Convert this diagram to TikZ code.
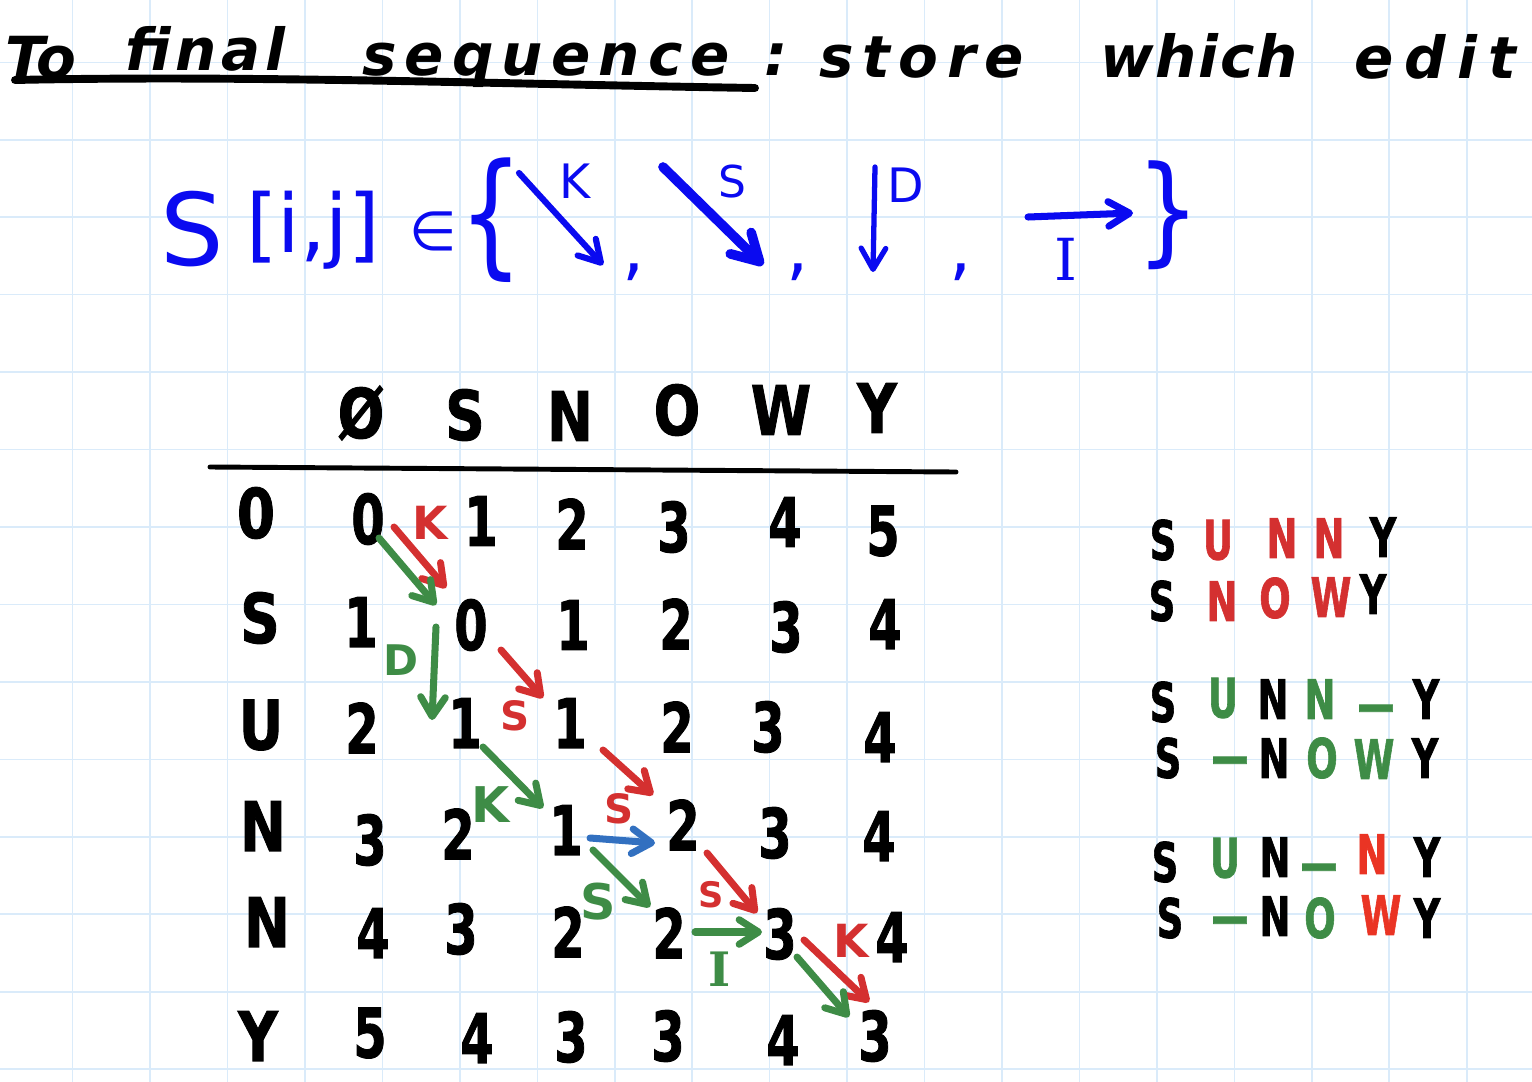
\documentclass[tikz,border=0pt]{standalone}
\usepackage{fontspec}
\setmainfont{DejaVu Sans}
\newfontfamily\serifhand{DejaVu Serif}
\usetikzlibrary{arrows.meta}

\definecolor{paperline}{RGB}{218,235,250}
\definecolor{penblue}{RGB}{10,10,240}
\definecolor{penred}{RGB}{212,48,48}
\definecolor{penbright}{RGB}{234,52,36}
\definecolor{pengreen}{RGB}{62,140,70}
\definecolor{penarrow}{RGB}{50,112,192}

\newcommand{\fsz}[1]{\fontsize{#1}{#1}\selectfont}
\newcommand{\narrow}[2][0.7]{\scalebox{#1}[1]{#2}}

\tikzset{
    paper/.style={draw=paperline, line width=0.9pt},
    heading/.style={font=\fsz{33}\bfseries\itshape\addfontfeatures{LetterSpace=#1}, anchor=base west, inner sep=0pt},
    formula/.style={font=\fsz{#1}, text=penblue, inner sep=0pt},
    cell/.style={font=\fsz{39}\bfseries\addfontfeatures{FakeBold=1.5}, inner sep=0pt},
    letter/.style={font=\fsz{31}\bfseries\addfontfeatures{FakeBold=1.5}, inner sep=0pt},
    tag/.style={font=\fsz{#1}\bfseries, inner sep=0pt},
    ink/.style={line width=#1, line cap=round, line join=round},
    edit/.style={ink=4pt, -{Straight Barb[round,length=11pt,width=14pt]}},
}

\begin{document}
\begin{tikzpicture}[x=0.02cm, y=-0.02cm]
    \fill[white] (0,0) rectangle (1532,1082);
    \useasboundingbox (0,0) rectangle (1532,1082);
    % squared paper
    \foreach \k in {0,...,18}
        \draw[paper] ({72.6+77.45*\k},0) -- ({72.6+77.45*\k},1082);
    \foreach \k in {0,...,13}
        \draw[paper] (0,{62.3+77.45*\k}) -- (1532,{62.3+77.45*\k});

    % heading
    \node[heading=-2] (w1) at (5,78) {To};
    \node[heading=8] (w2) at (125,70) {final};
    \node[heading=14] (w3) at (362,75) {sequence};
    \node[heading=0] (w4) at (764,75) {:};
    \node[heading=15] (w5) at (819,77) {store};
    \node[heading=3] (w6) at (1100,77) {which};
    \node[heading=19] (w7) at (1354,78) {edit};
    \draw[ink=4.5pt] (15,80) .. controls (250,75) and (500,84) .. (755,88);

    % S[i,j] in the set of four moves
    \node[formula=57, anchor=base] (fS) at (192,265) {S};
    \node[formula=46, anchor=base] (fij) at (313,252) {[i,j]};
    \node[formula=31] (fin) at (433,231) {∈};
    \node[formula=57] (fl) at (491,220) {\scalebox{1}[1.35]{\{}};
    \node[formula=57] (fr) at (1168,215) {\scalebox{1}[1.18]{\}}};
    \foreach \n/\x in {c1/634, c2/798, c3/961}
        \node[formula=40] (\n) at (\x,272) {,};
    \foreach \n/\x/\y in {fka/519/173, fkb/603/265, fsa/663/167, fsb/763/265,
                          fda/875/167, fdb/873/272, fia/1028/217, fib/1133/213}
        \coordinate (\n) at (\x,\y);
    \draw[ink=3.5pt, penblue, -{Straight Barb[round,length=12pt,width=14pt]}] (fka) -- (fkb);
    \draw[ink=5.5pt, penblue, -{Straight Barb[round,length=15pt,width=17pt]}] (fsa) -- (fsb);
    \draw[ink=3pt, penblue, -{Straight Barb[round,length=12pt,width=14pt]}] (fda) -- (fdb);
    \draw[ink=4pt, penblue, -{Straight Barb[round,length=12pt,width=14pt]}] (fia) -- (fib);
    \node[formula=27] (fK) at (575,181) {K};
    \node[formula=25] (fSl) at (732,182) {S};
    \node[formula=27] (fD) at (906,185) {D};
    \node[formula=33, font=\fsz{33}\serifhand] (fI) at (1066,259) {I};

    % table header and rule
    \foreach \c/\x/\y [count=\n] in {Ø/361/413, S/465/415, N/570/416, O/677/410, W/781/410, Y/877/408}
        \node[cell] (h\n) at (\x,\y) {\narrow[0.8]{\c}};
    \draw[ink=2.8pt] (210,467) -- (956,472);
    \foreach \c/\x/\y [count=\n] in {0/256/513, S/260/618, U/261/725, N/263/826, N/267/922, Y/258/1036}
        \node[cell] (r\n) at (\x,\y) {\narrow[0.8]{\c}};

    % table values, row by row
    \foreach \v/\x/\y [count=\n] in {0/368/519, 1/481/521, 2/572/524, 3/674/527, 4/785/522, 5/883/531}
        \node[cell] (v1-\n) at (\x,\y) {\narrow{\v}};
    \foreach \v/\x/\y [count=\n] in {1/361/622, 0/471/625, 1/573/625, 2/676/624, 3/786/627, 4/885/624}
        \node[cell] (v2-\n) at (\x,\y) {\narrow{\v}};
    \foreach \v/\x/\y [count=\n] in {2/362/728, 1/465/723, 1/570/723, 2/677/727, 3/768/727, 4/880/737}
        \node[cell] (v3-\n) at (\x,\y) {\narrow{\v}};
    \foreach \v/\x/\y [count=\n] in {3/370/840, 2/458/834, 1/566/830, 2/683/825, 3/775/833, 4/879/836}
        \node[cell] (v4-\n) at (\x,\y) {\narrow{\v}};
    \foreach \v/\x/\y [count=\n] in {4/373/933, 3/461/929, 2/568/932, 2/669/933, 3/780/934, 4/892/937}
        \node[cell] (v5-\n) at (\x,\y) {\narrow{\v}};
    \foreach \v/\x/\y [count=\n] in {5/370/1033, 4/477/1038, 3/571/1037, 3/668/1036, 4/783/1040, 3/875/1036}
        \node[cell] (v6-\n) at (\x,\y) {\narrow{\v}};

    % traceback arrows
    \foreach \n/\x/\y in {ka/394/527, kb/446/588, ga/379/538, gb/436/605,
                          da/436/627, db/432/720, sa/501/650, sb/543/698,
                          gc/483/747, gd/543/808, sc/603/750, sd/653/795,
                          ba/590/838, bb/655/843, ge/593/850, gf/650/907,
                          se/707/853, sf/757/913, ia/695/932, ib/762/932,
                          kc/804/940, kd/869/1002, gg/797/957, gh/849/1017}
        \coordinate (\n) at (\x,\y);
    \draw[edit, penred] (ka) -- (kb);
    \draw[edit, pengreen] (ga) -- (gb);
    \draw[edit, pengreen] (da) -- (db);
    \draw[edit, penred] (sa) -- (sb);
    \draw[edit, pengreen] (gc) -- (gd);
    \draw[edit, penred] (sc) -- (sd);
    \draw[edit, penarrow] (ba) -- (bb);
    \draw[edit, pengreen] (ge) -- (gf);
    \draw[edit, penred] (se) -- (sf);
    \draw[edit, pengreen] (ia) -- (ib);
    \draw[edit, penred] (kc) -- (kd);
    \draw[edit, pengreen] (gg) -- (gh);
    \node[tag=26, text=penred] (t1) at (430,523) {K};
    \node[tag=24, text=pengreen] (t2) at (401,660) {D};
    \node[tag=23, text=penred] (t3) at (515,716) {S};
    \node[tag=28, text=pengreen] (t4) at (491,805) {K};
    \node[tag=23, text=penred] (t5) at (619,809) {S};
    \node[tag=28, text=pengreen] (t6) at (598,902) {S};
    \node[tag=20, text=penred] (t7) at (711,895) {S};
    \node[tag=27, text=pengreen, font=\fsz{27}\serifhand\bfseries] (t8) at (720,969) {I};
    \node[tag=26, text=penred] (t9) at (851,941) {K};

    % alignments
    \foreach \c/\x/\y/\col [count=\n] in {S/1163/540/black, U/1218/540/penred, N/1282/538/penred, N/1329/538/penred, Y/1383/537/black}
        \node[letter, text=\col] (a1-\n) at (\x,\y) {\narrow[0.68]{\c}};
    \foreach \c/\x/\y/\col [count=\n] in {S/1162/601/black, N/1222/601/penred, O/1275/598/penred, W/1331/597/penred, Y/1373/594/black}
        \node[letter, text=\col] (a2-\n) at (\x,\y) {\narrow[0.68]{\c}};
    \foreach \c/\x/\y/\col [count=\n] in {S/1163/702/black, U/1223/698/pengreen, N/1273/699/black, N/1320/699/pengreen, —/1376/714/pengreen, Y/1426/699/black}
        \node[letter, text=\col] (b1-\n) at (\x,\y) {\narrow[0.68]{\c}};
    \foreach \c/\x/\y/\col [count=\n] in {S/1168/758/black, —/1230/766/pengreen, N/1274/758/black, O/1322/758/pengreen, W/1374/759/pengreen, Y/1425/758/black}
        \node[letter, text=\col] (b2-\n) at (\x,\y) {\narrow[0.68]{\c}};
    \foreach \c/\x/\y/\col [count=\n] in {S/1165/862/black, U/1225/858/pengreen, N/1275/857/black, —/1319/873/pengreen, N/1372/854/penbright, Y/1427/857/black}
        \node[letter, text=\col] (c1-\n) at (\x,\y) {\narrow[0.68]{\c}};
    \foreach \c/\x/\y/\col [count=\n] in {S/1170/918/black, —/1230/926/pengreen, N/1275/916/black, O/1320/918/pengreen, W/1381/915/penbright, Y/1427/918/black}
        \node[letter, text=\col] (c2-\n) at (\x,\y) {\narrow[0.68]{\c}};
\end{tikzpicture}
\end{document}
